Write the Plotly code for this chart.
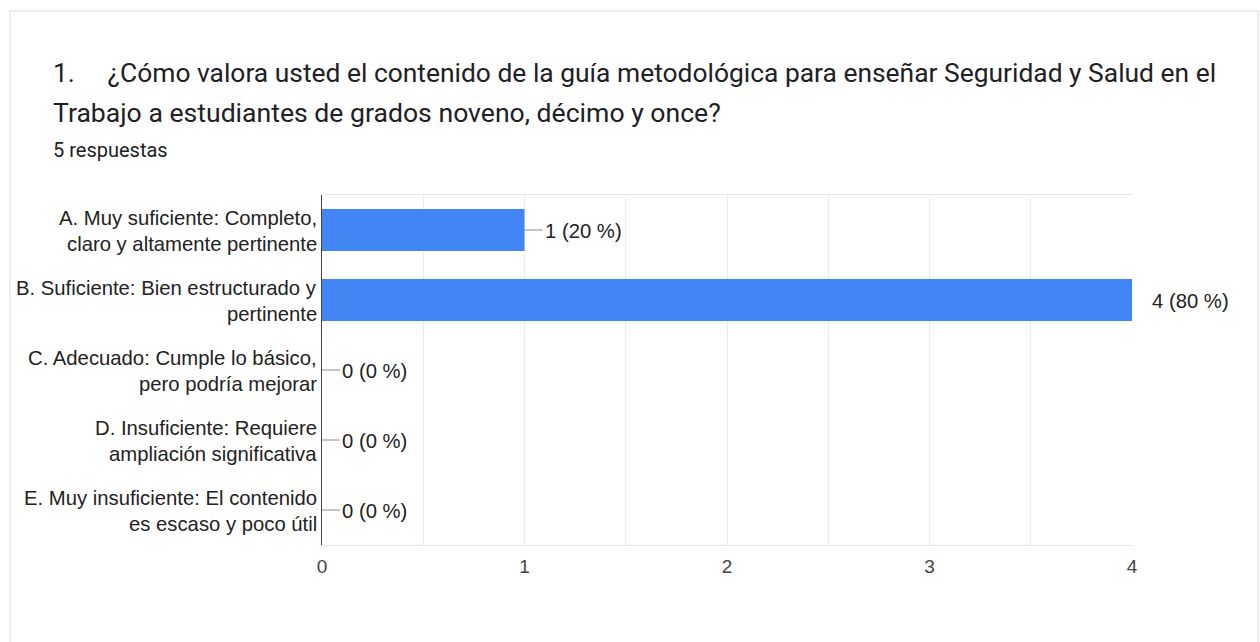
import plotly.graph_objects as go

categories = [
    "A. Muy suficiente: Completo,<br>claro y altamente pertinente",
    "B. Suficiente: Bien estructurado y<br>pertinente",
    "C. Adecuado: Cumple lo básico,<br>pero podría mejorar",
    "D. Insuficiente: Requiere<br>ampliación significativa",
    "E. Muy insuficiente: El contenido<br>es escaso y poco útil",
]
counts = [1, 4, 0, 0, 0]
percents = [20, 80, 0, 0, 0]
tick_values = [0, 1, 2, 3, 4]
tick_labels = ["0", "1", "2", "3", "4"]
title_line1 = "1.\u00a0\u00a0\u00a0\u00a0\u00a0¿Cómo valora usted el contenido de la guía metodológica para enseñar Seguridad y Salud en el"
title_line2 = "Trabajo a estudiantes de grados noveno, décimo y once?"
subtitle = "5 respuestas"

W, H = 1260, 642
L, R, T, B = 322, 128, 195, 97
PW, PH = W - L - R, H - T - B


def px(x):
    return (x - L) / PW


def py(y):
    return (H - B - y) / PH


fig = go.Figure()
fig.add_trace(go.Bar(
    x=counts, y=categories, orientation="h",
    marker=dict(color="#4285f4", line=dict(width=0)),
    hoverinfo="skip",
))

annotations = []
shapes = []

# card border
shapes.append(dict(type="rect", xref="paper", yref="paper",
                   x0=px(10), x1=px(1258), y0=py(700), y1=py(11),
                   line=dict(color="#dadce0", width=1), fillcolor="rgba(0,0,0,0)",
                   layer="below"))

# title texts
annotations.append(dict(xref="paper", yref="paper", x=px(51), y=py(73), xanchor="left", yanchor="middle",
                        text=title_line1, showarrow=False,
                        font=dict(family="Roboto", size=26.4, color="#202124")))
annotations.append(dict(xref="paper", yref="paper", x=px(51), y=py(112), xanchor="left", yanchor="middle",
                        text=title_line2, showarrow=False,
                        font=dict(family="Roboto", size=26.6, color="#202124")))
annotations.append(dict(xref="paper", yref="paper", x=px(51), y=py(150), xanchor="left", yanchor="middle",
                        text=subtitle, showarrow=False,
                        font=dict(family="Roboto", size=20, color="#202124")))

# category labels (two lines each)
for cat in categories:
    l1, l2 = cat.split("<br>")
    for txt, sh in ((l1, 12), (l2, -14)):
        annotations.append(dict(xref="paper", yref="y", x=0, y=cat, xanchor="right", yanchor="middle",
                                xshift=-3, yshift=sh, text=txt, showarrow=False,
                                font=dict(family="Liberation Sans, Arial", size=20.3, color="#222222")))

# value labels with leader lines
xmax = max(tick_values)
for cat, c, p in zip(categories, counts, percents):
    lead = 3 if c >= xmax else 18
    shapes.append(dict(type="line", xref="x", yref="y", xsizemode="pixel", xanchor=c,
                       x0=0, x1=lead, y0=cat, y1=cat,
                       line=dict(color="#8a8a8a", width=1)))
    annotations.append(dict(xref="x", yref="y", x=c, y=cat, xanchor="left", yanchor="middle",
                            xshift=18, yshift=-1, text=f"{c} ({p} %)", showarrow=False,
                            font=dict(family="Liberation Sans, Arial", size=20.3, color="#222222")))

fig.update_layout(
    width=W, height=H,
    margin=dict(l=L, r=R, t=T, b=B, pad=0),
    paper_bgcolor="white", plot_bgcolor="white",
    bargap=0.4, showlegend=False,
    annotations=annotations, shapes=shapes,
    xaxis=dict(range=[0, xmax], tickvals=tick_values, ticktext=tick_labels,
               showgrid=True, gridcolor="#ebebeb", gridwidth=1,
               minor=dict(dtick=0.5, showgrid=True, gridcolor="#ebebeb", gridwidth=1),
               showline=True, linecolor="#e6e6e6", linewidth=1, mirror=True,
               zeroline=False, ticks="", ticklen=0, ticklabelstandoff=4,
               tickfont=dict(family="Liberation Sans, Arial", size=19, color="#444444")),
    yaxis=dict(autorange="reversed", showticklabels=False, showgrid=False,
               showline=True, linecolor="#444444", linewidth=1, zeroline=False, ticks=""),
)

fig.write_html("out.html", config={"displayModeBar": False},
               post_script="document.body.style.margin='0';document.body.style.overflow='hidden';")
